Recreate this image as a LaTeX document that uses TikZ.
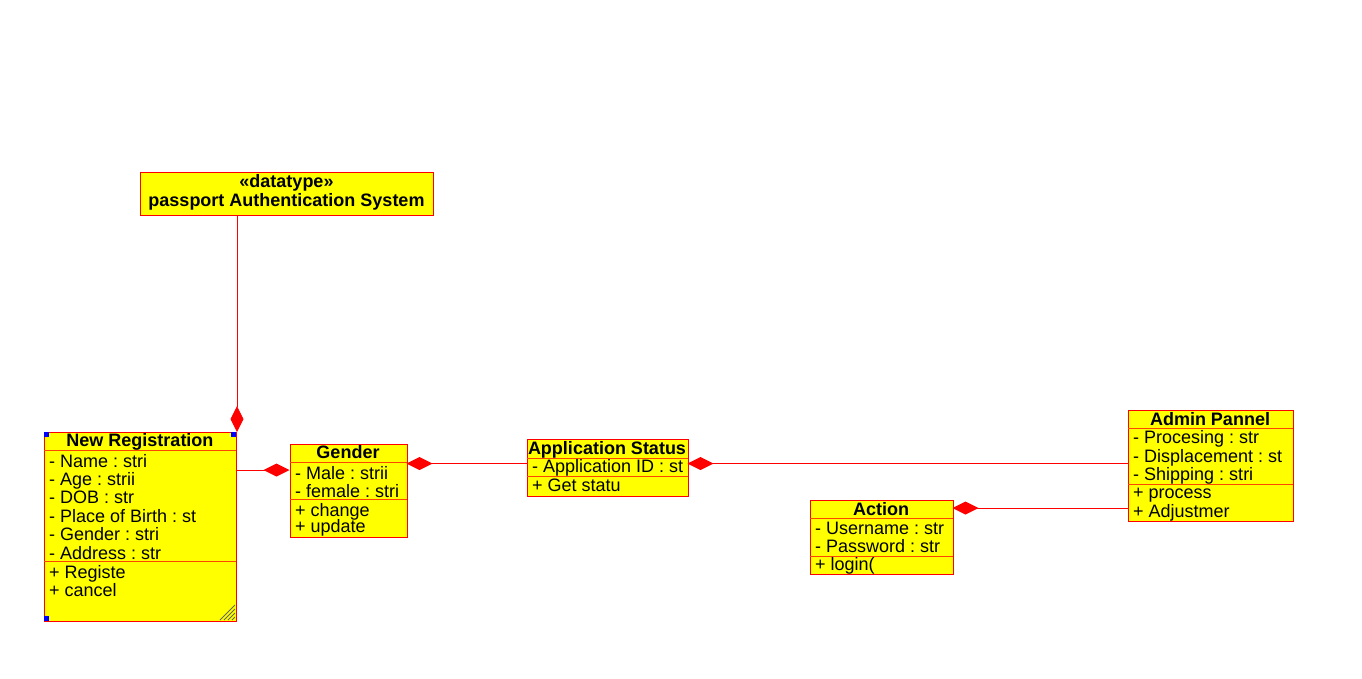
\documentclass[tikz,border=0pt]{standalone}
\usepackage{fontspec}
\setmainfont{Liberation Sans}
\usetikzlibrary{arrows.meta}
\definecolor{umlfill}{RGB}{255,255,0}
\definecolor{umlline}{RGB}{255,0,0}
\definecolor{sepline}{RGB}{255,70,0}
\definecolor{handle}{RGB}{0,0,255}
\begin{document}
\begin{tikzpicture}[x=1pt,y=-1pt,
  cls/.style={draw=umlline, fill=umlfill, line width=1pt, inner sep=0pt, anchor=north west},
  sepl/.style={draw=sepline, line width=1pt},
  attr/.style={anchor=base west, inner sep=0pt, font=\fontsize{18}{20}\selectfont\frenchspacing},
  ttl/.style={anchor=base, inner sep=0pt, font=\fontsize{18}{20}\selectfont\bfseries\frenchspacing},
  conn/.style={draw=umlline, line width=1pt},
  comp/.style={-{Diamond[length=26pt,width=13pt,fill=umlline,color=umlline]}},
  grip/.style={draw=black!60, line width=0.8pt}]
\useasboundingbox[fill=white] (0,0) rectangle (1362,678);

% datatype
\node[cls, minimum width=293, minimum height=43] (dt) at (140,172) {};
\node[ttl] (dtst) at (286.5,187) {«datatype»};
\node[ttl] (dtname) at (286.5,206.5) {passport Authentication System};

% New Registration
\node[cls, minimum width=192, minimum height=189] (reg) at (44,432) {};
\draw[sepl] (44,450.5) -- (236,450.5);
\draw[sepl] (44,561.5) -- (236,561.5);
\node[ttl] (regt) at (140,446.5) {New Registration};
\node[attr] (r1) at (49,467) {- Name : stri};
\node[attr] (r2) at (49,485.5) {- Age : strii};
\node[attr] (r3) at (49,503.5) {- DOB : str};
\node[attr] (r4) at (49,522) {- Place of Birth : st};
\node[attr] (r5) at (49,540.5) {- Gender : stri};
\node[attr] (r6) at (49,559) {- Address : str};
\node[attr] (r7) at (49,578) {+ Registe};
\node[attr] (r8) at (49,596.5) {+ cancel};
\fill[handle] (44,432) rectangle (49,437);
\fill[handle] (231,432) rectangle (236,437);
\fill[handle] (44,616) rectangle (49,621);
\draw[grip] (220,620) -- (235,605);
\draw[grip] (224,620) -- (235,609);
\draw[grip] (228,620) -- (235,613);
\draw[grip] (232,620) -- (235,617);

% Gender
\node[cls, minimum width=117, minimum height=93] (gen) at (289.5,443.5) {};
\draw[sepl] (289.5,462.5) -- (406.5,462.5);
\draw[sepl] (289.5,499.5) -- (406.5,499.5);
\node[ttl] (gent) at (348,458) {Gender};
\node[attr] (g1) at (295,479) {- Male : strii};
\node[attr] (g2) at (295,497) {- female : stri};
\node[attr] (g3) at (295,516) {+ change};
\node[attr] (g4) at (295,532) {+ update};

% Application Status
\node[cls, minimum width=161, minimum height=57] (app) at (526.5,439) {};
\draw[sepl] (526.5,458.5) -- (687.5,458.5);
\draw[sepl] (526.5,476.5) -- (687.5,476.5);
\node[ttl] (appt) at (607,454) {Application Status};
\node[attr] (a1) at (532,472.5) {- Application ID : st};
\node[attr] (a2) at (532,491) {+ Get statu};

% Action
\node[cls, minimum width=143, minimum height=74] (act) at (809.5,500) {};
\draw[sepl] (809.5,518.5) -- (952.5,518.5);
\draw[sepl] (809.5,556) -- (952.5,556);
\node[ttl] (actt) at (881,515) {Action};
\node[attr] (c1) at (815,534) {- Username : str};
\node[attr] (c2) at (815,552) {- Password : str};
\node[attr] (c3) at (815,570.5) {+ login(};

% Admin Pannel
\node[cls, minimum width=165, minimum height=111] (adm) at (1127.5,410) {};
\draw[sepl] (1127.5,428.5) -- (1292.5,428.5);
\draw[sepl] (1127.5,484) -- (1292.5,484);
\node[ttl] (admt) at (1210,425) {Admin Pannel};
\node[attr] (d1) at (1133,443.5) {- Procesing : str};
\node[attr] (d2) at (1133,462) {- Displacement : st};
\node[attr] (d3) at (1133,480) {- Shipping : stri};
\node[attr] (d4) at (1133,498.5) {+ process};
\node[attr] (d5) at (1133,517) {+ Adjustmer};

% connection points
\coordinate (pReg) at (236,470);
\coordinate (pGen) at (289.5,470);
\coordinate (qGen) at (406.5,463.5);
\coordinate (qApp) at (526.5,463.5);
\coordinate (rApp) at (687.5,463.5);
\coordinate (rAdm) at (1127.5,463.5);
\coordinate (sAct) at (952.5,508);
\coordinate (sAdm) at (1127.5,508);

% connectors
\draw[conn, comp] (reg.north east |- dt.south) -- (reg.north east);
\draw[conn, comp] (pReg) -- (pGen);
\draw[conn, comp] (qApp) -- (qGen);
\draw[conn, comp] (rAdm) -- (rApp);
\draw[conn, comp] (sAdm) -- (sAct);
\end{tikzpicture}
\end{document}
